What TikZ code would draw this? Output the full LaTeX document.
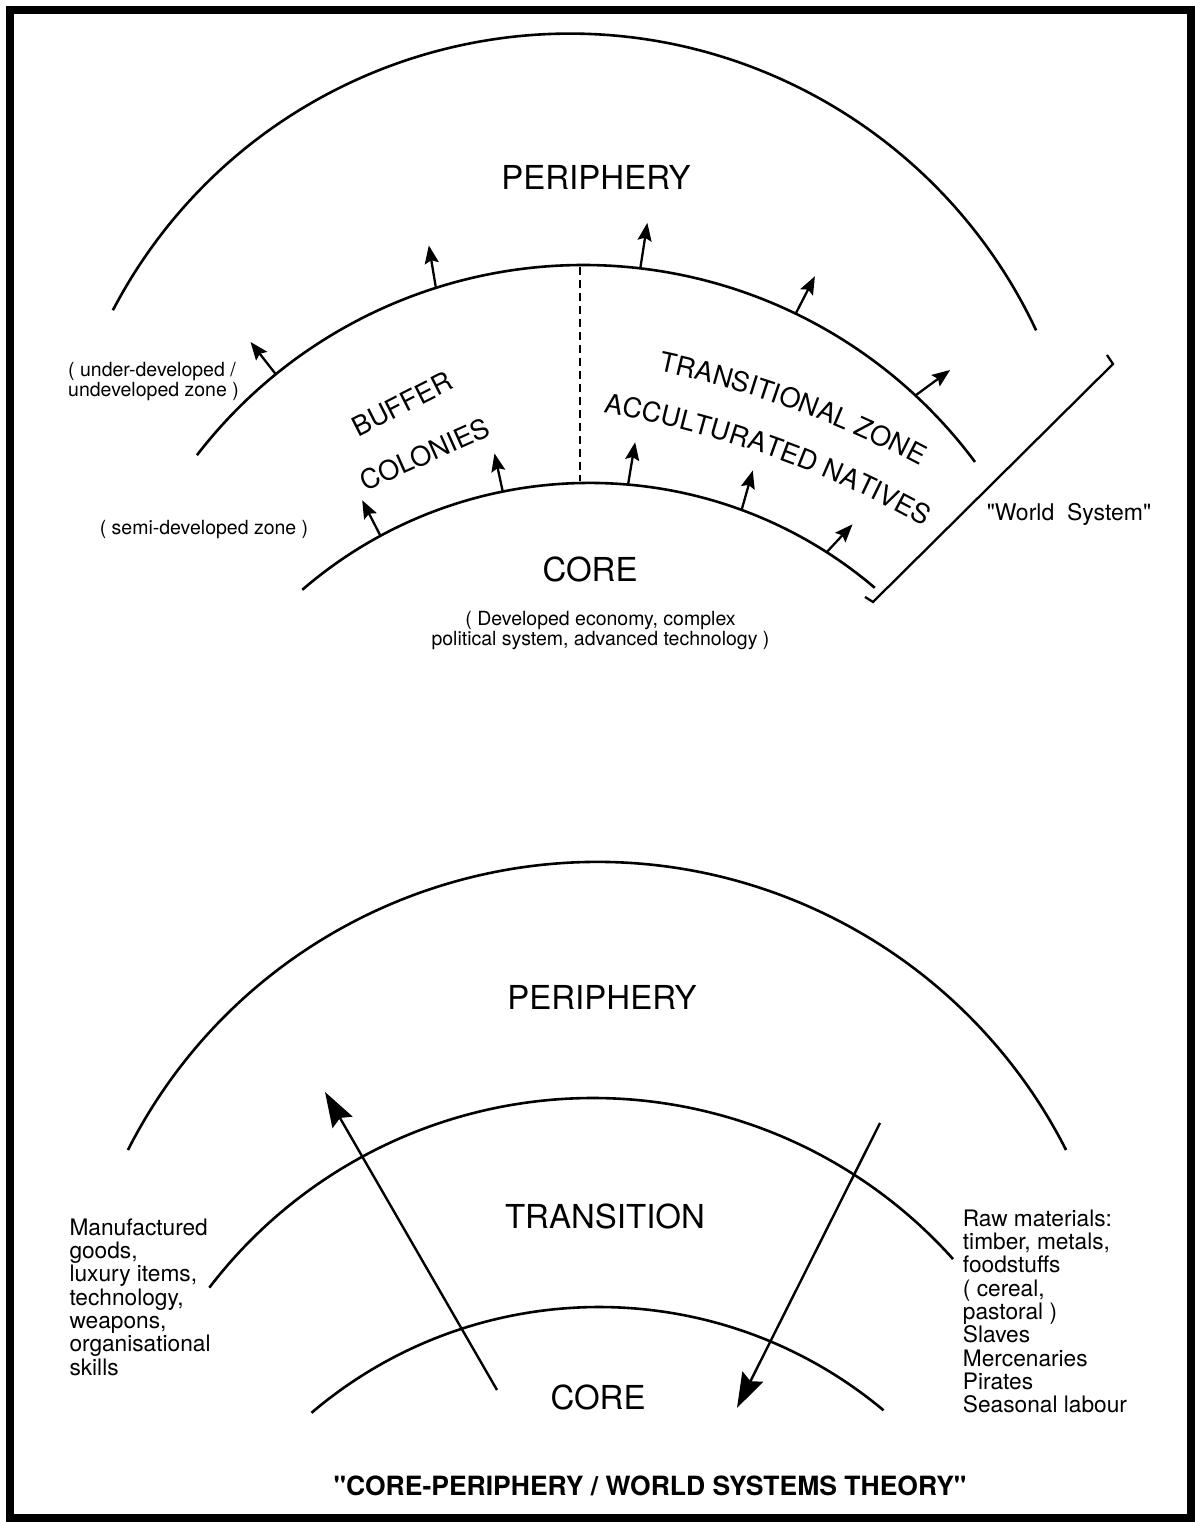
\documentclass[tikz,border=0pt]{standalone}
\usepackage{fontspec}
\setmainfont{TeX Gyre Heros}[Ligatures=TeXOff]
\usetikzlibrary{arrows.meta,decorations.text}
\begin{document}
\begin{tikzpicture}[x=1pt,y=1pt,
  arcline/.style={line width=2.6pt},
  smallarrow/.style={line width=2.3pt,-{Stealth[length=18pt,width=14pt,inset=3pt]}},
  bigarrow/.style={line width=2.4pt,-{Stealth[length=35pt,width=23pt,inset=5pt]}},
  biglabel/.style={font=\fontsize{33}{33}\selectfont, inner sep=0pt},
  midlabel/.style={font=\fontsize{27}{27}\selectfont, inner sep=0pt},
  note/.style={font=\fontsize{19.5}{20}\selectfont, inner sep=0pt},
  listtext/.style={font=\fontsize{22.7}{23.3}\selectfont, inner sep=0pt, align=left, anchor=north west},
]
\useasboundingbox (0,0) rectangle (1194,1522);
\draw[line width=8pt] (10,4) rectangle (1191,1512);

% ---------- top diagram ----------
\draw[arcline] (569.5,973) ++(152.4:515.3) arc[start angle=152.4,end angle=25.1,radius=515.3];
\draw[arcline] (583.4,769.2) ++(142.4:487.8) arc[start angle=142.4,end angle=36.6,radius=487.8];
\draw[arcline] (589.7,599.2) ++(130.8:439.9) arc[start angle=130.8,end angle=49.6,radius=439.9];

\coordinate (dtop) at (580,1255);
\coordinate (dbot) at (580,1041);
\draw[line width=2.2pt, dash pattern=on 8pt off 5pt] (dtop) -- (dbot);

% arrows on middle arc
\path (583.4,769.2) ++(129.1:487.8) coordinate (a1) ++(128:41) coordinate (a1t);
\path (583.4,769.2) ++(107.6:487.8) coordinate (a2) ++(99.5:43) coordinate (a2t);
\path (583.4,769.2) ++(83.3:487.8) coordinate (a3) ++(81.2:46) coordinate (a3t);
\path (583.4,769.2) ++(64.2:487.8) coordinate (a4) ++(62.8:42) coordinate (a4t);
\path (583.4,769.2) ++(47.1:487.8) coordinate (a5) ++(36.3:43) coordinate (a5t);
% arrows on inner arc
\path (589.7,599.2) ++(118.4:439.9) coordinate (b1) ++(117.2:40) coordinate (b1t);
\path (589.7,599.2) ++(101.4:439.9) coordinate (b2) ++(102.2:39) coordinate (b2t);
\path (589.7,599.2) ++(85.0:439.9) coordinate (b3) ++(80.5:43) coordinate (b3t);
\path (589.7,599.2) ++(69.8:439.9) coordinate (b4) ++(74.2:41) coordinate (b4t);
\path (589.7,599.2) ++(57.4:439.9) coordinate (b5) ++(47.2:38) coordinate (b5t);
\foreach \p in {a1,a2,a3,a4,a5,b1,b2,b3,b4,b5} \draw[smallarrow] (\p) -- (\p t);

% bracket
\coordinate (br1) at (1107,1167);
\coordinate (br2) at (1113,1158);
\coordinate (br3) at (873,920);
\coordinate (br4) at (865,925);
\draw[line width=2.3pt, line join=miter] (br1) -- (br2) -- (br3) -- (br4);

\node[biglabel] (per1) at (596,1345) {PERIPHERY};
\node[biglabel] (core1) at (590,953) {CORE};
\node[note, align=center] (coredesc) at (600.5,891) {( Developed economy, complex\\political system, advanced technology )};
\node[note, align=left, anchor=west] (under) at (68,1140) {( under-developed /\\undeveloped zone )};
\node[note] (semi) at (204,992) {( semi-developed zone )};
\node[font=\fontsize{23}{23}\selectfont, inner sep=0pt] (ws) at (1069,1008) {"World\ \ System"};
\node[midlabel, rotate=27] (buffer) at (402,1118) {BUFFER};
\node[midlabel, rotate=24] (colonies) at (425,1068) {COLONIES};
\path[decorate,decoration={text along path, text align=center,
  text={|\fontsize{27}{27}\selectfont|TRANSITIONAL ZONE}}]
  (453.9,182.5) ++(90:990) arc[start angle=90,end angle=50,radius=990];
\path[decorate,decoration={text along path, text align=center,
  text={|\fontsize{27}{27}\selectfont|ACCULTURATED NATIVES}}]
  (438.3,133.1) ++(90.5:990) arc[start angle=90.5,end angle=50.5,radius=990];

% ---------- bottom diagram ----------
\draw[arcline] (597,134) ++(153.1:526) arc[start angle=153.1,end angle=26.9,radius=526];
\draw[arcline] (593,-59) ++(142.6:483) arc[start angle=142.6,end angle=41.8,radius=483];
\draw[arcline] (599,-228.6) ++(130.4:443.6) arc[start angle=130.4,end angle=50.1,radius=443.6];

\coordinate (la0) at (497,132);
\coordinate (la1) at (325,430);
\coordinate (ra0) at (880,399);
\coordinate (ra1) at (737,114);
\draw[bigarrow] (la0) -- (la1);
\draw[bigarrow] (ra0) -- (ra1);

\node[biglabel] (per2) at (602,525) {PERIPHERY};
\node[biglabel] (trans) at (605,306) {TRANSITION};
\node[biglabel] (core2) at (598,125) {CORE};
\node[listtext] (exports) at (69.3,303.5) {Manufactured\\goods,\\luxury items,\\technology,\\weapons,\\organisational\\skills};
\node[listtext] (imports) at (962.7,312.5) {Raw materials:\\timber, metals,\\foodstuffs\\( cereal,\\pastoral )\\Slaves\\Mercenaries\\Pirates\\Seasonal labour};
\node[font=\bfseries\fontsize{26.5}{26.5}\selectfont, inner sep=0pt] (title) at (650,36) {"CORE-PERIPHERY / WORLD SYSTEMS THEORY"};
\end{tikzpicture}
\end{document}
